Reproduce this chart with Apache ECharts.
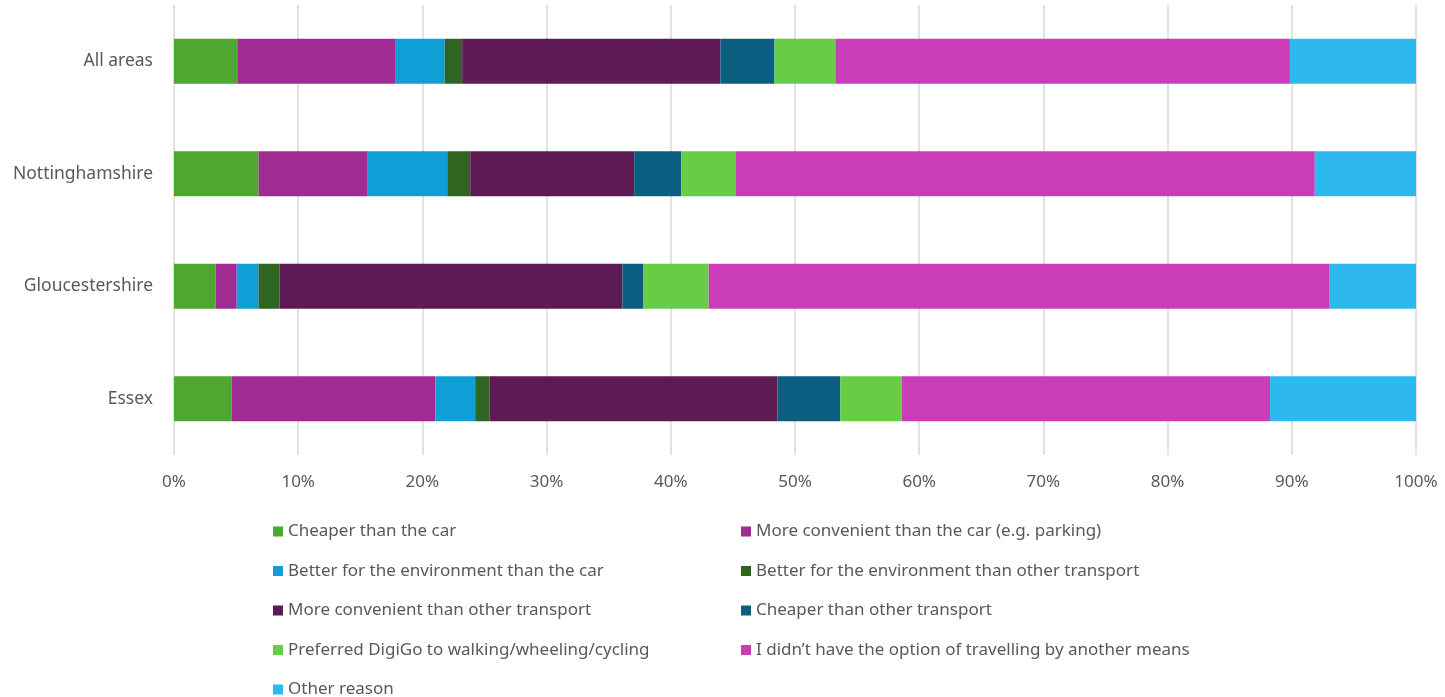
<!DOCTYPE html>
<html>
<head>
<meta charset="utf-8">
<script src="https://cdn.jsdelivr.net/npm/echarts@6/dist/echarts.min.js"></script>
<style>
  html, body { margin: 0; padding: 0; background: #ffffff; }
  #chart { width: 1445px; height: 697px; }
</style>
</head>
<body>
<div id="chart"></div>
<script>
// Areas shown on the vertical axis (top to bottom)
const areas = ['All areas', 'Nottinghamshire', 'Gloucestershire', 'Essex'];

// Reasons for travelling, in stacking order
const reasons = [
  'Cheaper than the car',
  'More convenient than the car (e.g. parking)',
  'Better for the environment than the car',
  'Better for the environment than other transport',
  'More convenient than other transport',
  'Cheaper than other transport',
  'Preferred DigiGo to walking/wheeling/cycling',
  'I didn\u2019t have the option of travelling by another means',
  'Other reason'
];

// Share of respondents (%) per reason, one value per area
const cheaperThanCar        = [5.1, 6.8, 3.35, 4.65];
const convenientThanCar     = [12.7, 8.8, 1.7, 16.4];
const envBetterThanCar      = [4.0, 6.4, 1.75, 3.2];
const envBetterThanOther    = [1.4, 1.85, 1.7, 1.15];
const convenientThanOther   = [20.8, 13.2, 27.6, 23.2];
const cheaperThanOther      = [4.35, 3.8, 1.7, 5.05];
const preferredToActive     = [4.9, 4.4, 5.25, 4.95];
const noOtherOption         = [36.6, 46.6, 50.0, 29.65];
const otherReason           = [10.15, 8.15, 6.95, 11.75];

// Percentage tick labels along the bottom axis
const tickValues = [0, 10, 20, 30, 40, 50, 60, 70, 80, 90, 100];

const seriesValues = [
  cheaperThanCar, convenientThanCar, envBetterThanCar, envBetterThanOther,
  convenientThanOther, cheaperThanOther, preferredToActive, noOtherOption, otherReason
];

const colors = [
  '#4EA72E', '#A02B93', '#0F9ED5', '#2E6521', '#5E1A55',
  '#0B5E7F', '#68CD46', '#CB3CB8', '#2DB9EE'
];

const textColor = '#595959';
const fontFamily = "'Noto Sans', 'Open Sans', sans-serif";

const series = reasons.map((name, i) => ({
  name: name,
  type: 'bar',
  stack: 'total',
  barWidth: '40%',
  itemStyle: { color: colors[i] },
  emphasis: { disabled: true },
  data: seriesValues[i]
}));

const legendCommon = {
  orient: 'vertical',
  icon: 'rect',
  padding: 0,
  itemWidth: 10,
  itemHeight: 10,
  itemGap: 22.5,
  textStyle: { color: textColor, fontSize: 17, fontFamily: fontFamily, lineHeight: 16 },
  selectedMode: false
};

const chart = echarts.init(document.getElementById('chart'), null, { renderer: 'canvas' });
chart.setOption({
  animation: false,
  color: colors,
  grid: { left: 174, right: 29, top: 5, bottom: 242, containLabel: false },
  xAxis: {
    type: 'value',
    min: tickValues[0],
    max: tickValues[tickValues.length - 1],
    interval: 10,
    axisLine: { show: false },
    axisTick: { show: false },
    axisLabel: {
      color: textColor, fontSize: 17, fontFamily: fontFamily, margin: 19,
      formatter: v => v + '%'
    },
    splitLine: { show: true, lineStyle: { color: '#d9d9d9', width: 1.5 } }
  },
  yAxis: {
    type: 'category',
    data: areas,
    inverse: true,
    axisLine: { show: false },
    axisTick: { show: false },
    axisLabel: { color: textColor, fontSize: 17.5, fontFamily: fontFamily, margin: 21 },
    splitLine: { show: false }
  },
  legend: [
    Object.assign({}, legendCommon, {
      left: 273, top: 523,
      data: [reasons[0], reasons[2], reasons[4], reasons[6]]
    }),
    Object.assign({}, legendCommon, {
      left: 741, top: 523,
      data: [reasons[1], reasons[3], reasons[5], reasons[7]]
    }),
    Object.assign({}, legendCommon, {
      left: 273, top: 681,
      data: [reasons[8]]
    })
  ],
  series: series
});
</script>
</body>
</html>
